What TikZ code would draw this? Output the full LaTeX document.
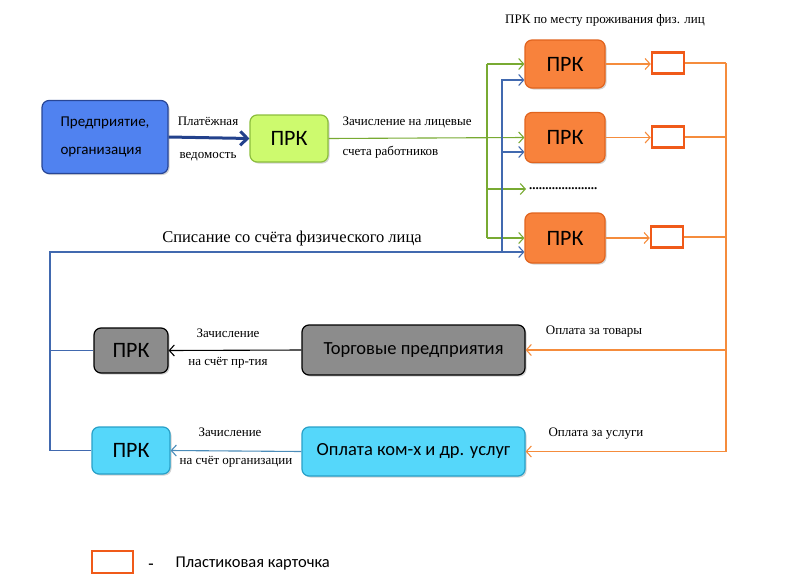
\documentclass[tikz,border=0pt]{standalone}
\usepackage{fontspec}
\setmainfont{Liberation Serif}
\newfontfamily\boxfont{Carlito}
\usetikzlibrary{arrows.meta,shadows}
\definecolor{firmblue}{RGB}{80,130,240}
\definecolor{firmedge}{RGB}{40,70,150}
\definecolor{arrowblue}{RGB}{35,65,140}
\definecolor{prkgreen}{RGB}{205,250,110}
\definecolor{greenedge}{RGB}{140,190,60}
\definecolor{greenline}{RGB}{120,170,50}
\definecolor{prkorange}{RGB}{248,130,60}
\definecolor{orangeedge}{RGB}{225,100,30}
\definecolor{cardedge}{RGB}{240,90,25}
\definecolor{orangeline}{RGB}{245,140,60}
\definecolor{tradegray}{RGB}{140,140,140}
\definecolor{servcyan}{RGB}{85,215,250}
\definecolor{cyanedge}{RGB}{40,160,200}
\definecolor{blueline}{RGB}{65,105,175}
\definecolor{cyanline}{RGB}{75,140,185}

\begin{document}
\begin{tikzpicture}[x=1pt,y=-1pt,
    box/.style={rounded corners=7pt,line width=1.2pt,
      drop shadow={shadow xshift=1.5pt,shadow yshift=-1.5pt,opacity=.35},
      font=\boxfont\fontsize{18.5}{22}\selectfont},
    prkbox/.style={box,font=\boxfont\fontsize{22}{24}\selectfont},
    card/.style={draw=cardedge,line width=2.4pt,fill=white,minimum width=32pt,minimum height=21pt},
    lbl/.style={font=\fontsize{13}{15}\selectfont},
    tip/.style={-{Straight Barb[length=5pt,width=11pt]}},
    gline/.style={greenline,line width=1.1pt},
    bline/.style={blueline,line width=1.1pt},
    oline/.style={orangeline,line width=1.1pt}]
  %%%%% START %%%%%
  \useasboundingbox (0,0) rectangle (800,581);

  \node[box,fill=firmblue,draw=firmedge,minimum width=126pt,minimum height=73pt,align=left,font=\boxfont\fontsize{15}{28}\selectfont] (firm) at (105,137) {Предприятие,\\организация};
  \node[prkbox,fill=prkgreen,draw=greenedge,minimum width=78pt,minimum height=47pt] (prkA) at (289,138.5) {ПРК};

  \draw[arrowblue,line width=3pt,-{Straight Barb[length=7pt,width=14pt]}] (firm.east) -- (prkA.west);
  \node[lbl] (pay1) at (208,121) {Платёжная};
  \node[lbl] (pay2) at (208,157) {ведомость};

  \node[lbl] (title) at (605,20) {ПРК по месту проживания физ. лиц};
  \node[prkbox,fill=prkorange,draw=orangeedge,minimum width=80pt,minimum height=48pt] (prk1) at (565,64) {ПРК};
  \node[prkbox,fill=prkorange,draw=orangeedge,minimum width=80pt,minimum height=50pt] (prk2) at (565,137.5) {ПРК};
  \node[prkbox,fill=prkorange,draw=orangeedge,minimum width=80pt,minimum height=50pt] (prk3) at (565,238) {ПРК};
  \node[lbl,anchor=west,inner sep=0pt] (dots) at (529,189) {\textbf{.....................}};

  \node[card] (card1) at (668,63) {};
  \node[card] (card2) at (668,137) {};
  \node[card] (card3) at (667,237) {};

  % green: na litsevye scheta
  \coordinate (gsplit) at (487,138);
  \draw[gline,tip] (prkA.east) -- (prk2.west);
  \draw[gline] (gsplit |- prk1.west) -- (gsplit |- prk3.west);
  \draw[gline,tip] (gsplit |- prk1.west) -- (prk1.west);
  \draw[gline,tip] (gsplit |- dots.west) -- ([xshift=-3pt]dots.west);
  \draw[gline,tip] (gsplit |- prk3.west) -- (prk3.west);
  \node[lbl,anchor=west] (credit1) at (339,122) {Зачисление на лицевые};
  \node[lbl,anchor=west] (credit2) at (339,152) {счета работников};

  % orange: cards
  \draw[oline,tip] (prk1.east) -- (prk1.east -| card1.west);
  \draw[oline,tip] (prk2.east) -- (prk2.east -| card2.west);
  \draw[oline,tip] (prk3.east) -- (prk3.east -| card3.west);
  \coordinate (otop) at (726,63);
  \draw[oline] (card1.east) -- (otop);
  \draw[oline] (card2.east) -- (otop |- card2.east);
  \draw[oline] (card3.east) -- (otop |- card3.east);

  \node[box,fill=tradegray,draw=black,minimum width=223pt,minimum height=50pt] (trade) at (413.5,350) {Торговые предприятия};
  \node[prkbox,fill=tradegray,draw=black,minimum width=74pt,minimum height=45pt] (prkT) at (131,350.5) {ПРК};
  \node[box,fill=servcyan,draw=cyanedge,minimum width=223pt,minimum height=49pt] (serv) at (413.5,451.5) {Оплата ком-х и др. услуг};
  \node[prkbox,fill=servcyan,draw=cyanedge,minimum width=78pt,minimum height=47pt] (prkS) at (131,450.5) {ПРК};

  \draw[oline] (otop) -- (otop |- serv.east);
  \draw[oline,tip] (otop |- trade.east) -- (trade.east);
  \draw[oline,tip] (otop |- serv.east) -- (serv.east);
  \node[lbl] (goods) at (594,332) {Оплата за товары};
  \node[lbl] (serv lbl) at (596,434) {Оплата за услуги};

  \draw[black,line width=1.1pt,tip] (trade.west) -- (prkT.east);
  \node[lbl] (tr1) at (228,333) {Зачисление};
  \node[lbl] (tr2) at (228,363) {на счёт пр-тия};
  \draw[cyanline,line width=1.1pt,tip] (serv.west) -- (prkS.east);
  \node[lbl] (sv1) at (230,432) {Зачисление};
  \node[lbl] (sv2) at (236,462) {на счёт организации};

  % blue: spisanie
  \coordinate (b1) at ([yshift=-16pt]prk1.west);
  \coordinate (b2) at ([yshift=-14.5pt]prk2.west);
  \coordinate (b3) at ([yshift=-14pt]prk3.west);
  \coordinate (bcorner) at (50,252);
  \coordinate (bsplit) at (502,252);
  \draw[bline,tip] (prkS.west) -| (bcorner) -- (b3);
  \draw[bline] (prkT.west) -- (bcorner |- prkT.west);
  \draw[bline,tip] (bsplit) |- (b1);
  \draw[bline,tip] (bsplit |- b2) -- (b2);
  \node[font=\fontsize{16.5}{18}\selectfont] (debit) at (292,239) {Списание со счёта физического лица};

  % legend
  \node[card,minimum width=41pt,minimum height=22pt] (legcard) at (112.5,562) {};
  \node[font=\bfseries\fontsize{16}{18}\selectfont] (legdash) at (151,566) {-};
  \node[font=\boxfont\fontsize{16.5}{18}\selectfont,anchor=west] (legtext) at (172,564) {Пластиковая карточка};
  %%%%% END %%%%%
\end{tikzpicture}
\end{document}
